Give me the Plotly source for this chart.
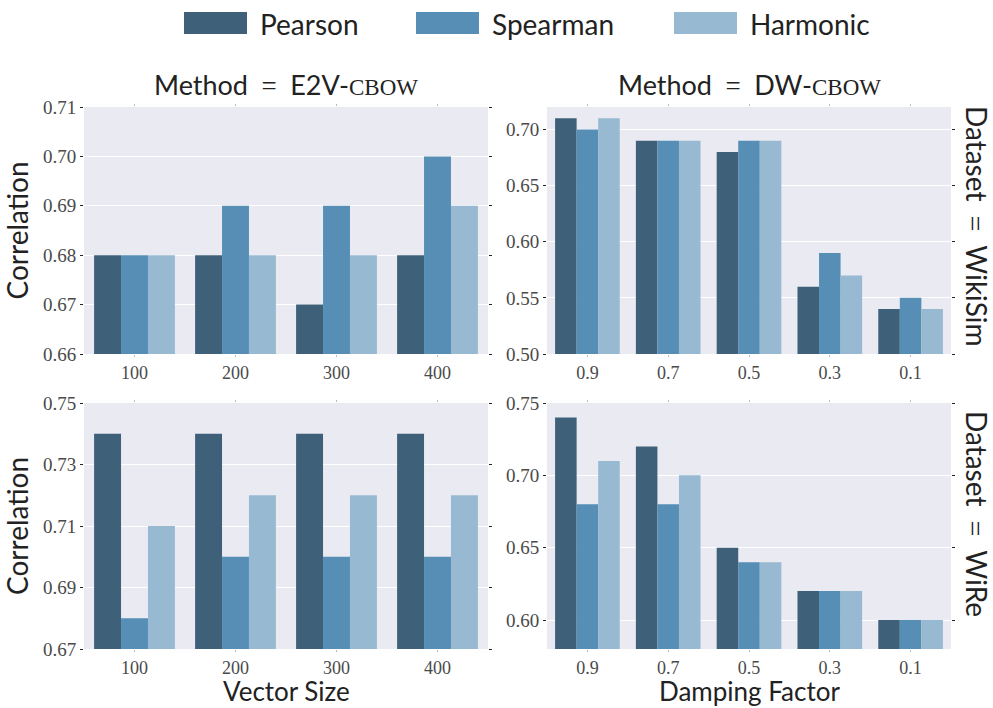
import plotly.graph_objects as go
from plotly.subplots import make_subplots

# Categories
vector_sizes = ["100", "200", "300", "400"]
damping_factors = ["0.9", "0.7", "0.5", "0.3", "0.1"]
series_names = ["Pearson", "Spearman", "Harmonic"]
series_colors = ["#3f6079", "#568eb5", "#97b9d1"]

# E2V-CBOW, WikiSim
e2v_wikisim_pearson = [0.68, 0.68, 0.67, 0.68]
e2v_wikisim_spearman = [0.68, 0.69, 0.69, 0.70]
e2v_wikisim_harmonic = [0.68, 0.68, 0.68, 0.69]

# DW-CBOW, WikiSim
dw_wikisim_pearson = [0.71, 0.69, 0.68, 0.56, 0.54]
dw_wikisim_spearman = [0.70, 0.69, 0.69, 0.59, 0.55]
dw_wikisim_harmonic = [0.71, 0.69, 0.69, 0.57, 0.54]

# E2V-CBOW, WiRe
e2v_wire_pearson = [0.74, 0.74, 0.74, 0.74]
e2v_wire_spearman = [0.68, 0.70, 0.70, 0.70]
e2v_wire_harmonic = [0.71, 0.72, 0.72, 0.72]

# DW-CBOW, WiRe
dw_wire_pearson = [0.74, 0.72, 0.65, 0.62, 0.60]
dw_wire_spearman = [0.68, 0.68, 0.64, 0.62, 0.60]
dw_wire_harmonic = [0.71, 0.70, 0.64, 0.62, 0.60]

# y tick values per panel
ticks_e2v_wikisim = [0.66, 0.67, 0.68, 0.69, 0.70, 0.71]
ticks_dw_wikisim = [0.50, 0.55, 0.60, 0.65, 0.70]
ticks_e2v_wire = [0.67, 0.69, 0.71, 0.73, 0.75]
ticks_dw_wire = [0.60, 0.65, 0.70, 0.75]

SERIF = "Liberation Serif"
SANS = "Lato"
W, H = 993, 708
ML, MR, MT, MB = 84, 42, 107, 59
PW, PH = W - ML - MR, H - MT - MB


def px_x(px):
    return (px - ML) / PW


def px_y(py):
    return (H - MB - py) / PH


panels = [
    (1, 1, vector_sizes, [e2v_wikisim_pearson, e2v_wikisim_spearman, e2v_wikisim_harmonic], ticks_e2v_wikisim, [0.66, 0.71]),
    (1, 2, damping_factors, [dw_wikisim_pearson, dw_wikisim_spearman, dw_wikisim_harmonic], ticks_dw_wikisim, [0.50, 0.72]),
    (2, 1, vector_sizes, [e2v_wire_pearson, e2v_wire_spearman, e2v_wire_harmonic], ticks_e2v_wire, [0.67, 0.75]),
    (2, 2, damping_factors, [dw_wire_pearson, dw_wire_spearman, dw_wire_harmonic], ticks_dw_wire, [0.58, 0.75]),
]

fig = make_subplots(rows=2, cols=2)

for row, col, cats, series, ticks, yr in panels:
    for name, color, vals in zip(series_names, series_colors, series):
        fig.add_trace(
            go.Bar(x=cats, y=vals, name=name, marker=dict(color=color, line=dict(width=0)),
                   showlegend=False),
            row=row, col=col,
        )
    fig.update_yaxes(
        range=yr, tickvals=ticks, ticktext=[f"{t:.2f}" for t in ticks],
        showgrid=True, gridcolor="white", gridwidth=1.2, zeroline=False,
        ticks="outside", ticklen=3, tickcolor="#222", mirror="ticks",
        tickfont=dict(family=SERIF, size=19, color="#4a4a4a"),
        automargin=False, row=row, col=col,
    )
    fig.update_xaxes(
        type="category", showgrid=False, zeroline=False,
        ticks="outside", ticklen=2, tickcolor="#bbb", mirror="ticks",
        tickfont=dict(family=SERIF, size=18, color="#4a4a4a"),
        automargin=False, row=row, col=col,
    )

# Panel placement (plot area spans 84..951 x 107..649 px)
xd_left, xd_right = [px_x(84), px_x(488)], [px_x(547), px_x(951)]
yd_top, yd_bottom = [px_y(354), px_y(107)], [px_y(649), px_y(403)]
fig.update_layout(
    xaxis=dict(domain=xd_left), xaxis2=dict(domain=xd_right),
    xaxis3=dict(domain=xd_left), xaxis4=dict(domain=xd_right),
    yaxis=dict(domain=yd_top), yaxis2=dict(domain=yd_top),
    yaxis3=dict(domain=yd_bottom), yaxis4=dict(domain=yd_bottom),
)

fig.update_yaxes(title=dict(text="Correlation", font=dict(family=SANS, size=28, color="#222"), standoff=6), row=1, col=1)
fig.update_yaxes(title=dict(text="Correlation", font=dict(family=SANS, size=28, color="#222"), standoff=6), row=2, col=1)

sc = f"<span style='font-family:{SERIF};font-size:23px'>CBOW</span>"
eq = f"&#8194;<span style='font-family:{SERIF}'>=</span>&#8194;"
annotations = [
    dict(text=f"Method{eq}E2V-{sc}", x=px_x(286), y=px_y(84), xanchor="center", yanchor="middle", size=27),
    dict(text=f"Method{eq}DW-{sc}", x=px_x(749), y=px_y(84), xanchor="center", yanchor="middle", size=27),
    dict(text=f"Dataset{eq}WikiSim", x=px_x(977), y=px_y(226), xanchor="center", yanchor="middle", textangle=90, size=28),
    dict(text=f"Dataset{eq}WiRe", x=px_x(977), y=px_y(514), xanchor="center", yanchor="middle", textangle=90, size=28),
    # bottom-row axis titles
    dict(text="Vector Size", x=px_x(286), y=px_y(691), xanchor="center", yanchor="middle", size=26),
    dict(text="Damping Factor", x=px_x(749), y=px_y(691), xanchor="center", yanchor="middle", size=26),
]
for a in annotations:
    size = a.pop("size")
    a.update(xref="paper", yref="paper", showarrow=False, font=dict(family=SANS, size=size, color="#222"))
    fig.add_annotation(**a)

# Legend row along the top
legend_px = [184, 416, 674]
for name, color, lx in zip(series_names, series_colors, legend_px):
    fig.add_shape(type="rect", xref="paper", yref="paper", x0=px_x(lx), x1=px_x(lx + 63),
                  y0=px_y(34), y1=px_y(12), fillcolor=color, line=dict(width=0))
    fig.add_annotation(text=name, xref="paper", yref="paper", x=px_x(lx + 74), y=px_y(24),
                       xanchor="left", yanchor="middle", showarrow=False,
                       font=dict(family=SANS, size=28, color="#222"))

fig.update_layout(
    width=W, height=H,
    margin=dict(l=ML, r=MR, t=MT, b=MB),
    paper_bgcolor="white", plot_bgcolor="#eaeaf2",
    barmode="group", bargap=0.2, bargroupgap=0,
    showlegend=False,
)

fig.write_html("out.html")
